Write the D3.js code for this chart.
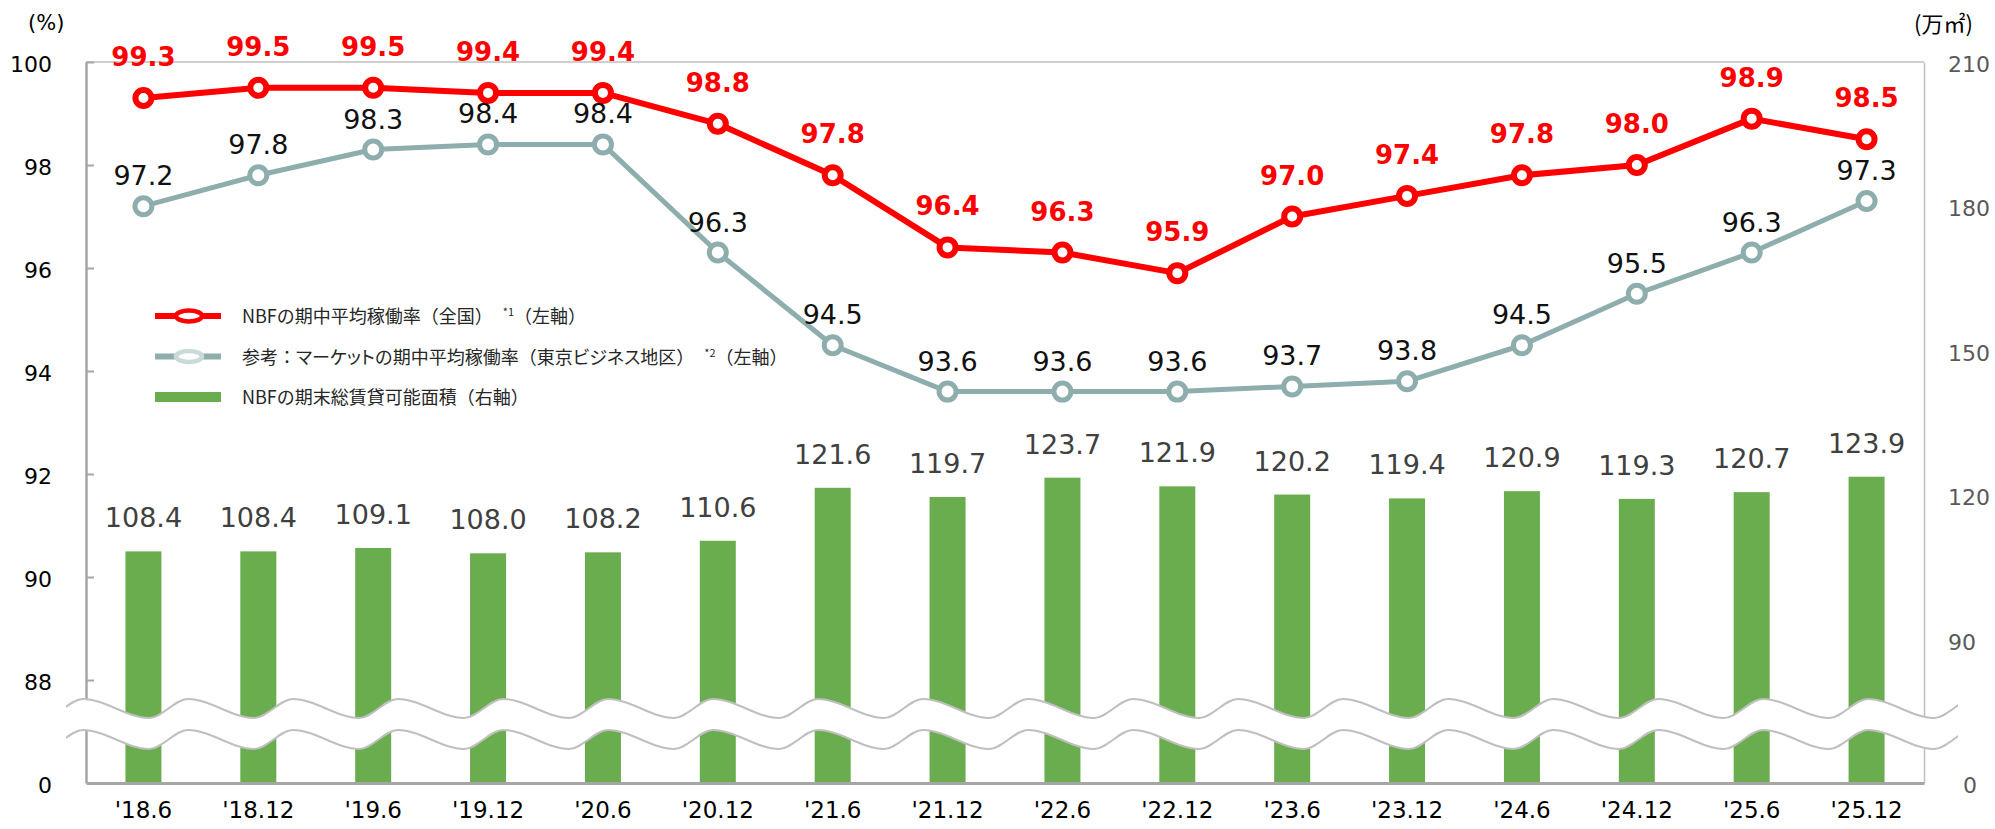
<!DOCTYPE html>
<html>
<head>
<meta charset="utf-8">
<script src="https://cdn.jsdelivr.net/npm/d3@7"></script>
<style>
  body { margin: 0; background: #fff; }
  svg { display: block; }
  .kana { font-feature-settings: "palt"; }
</style>
</head>
<body>
<svg id="chart"></svg>
<script>
// Data
const periods = ["'18.6", "'18.12", "'19.6", "'19.12", "'20.6", "'20.12", "'21.6", "'21.12",
                 "'22.6", "'22.12", "'23.6", "'23.12", "'24.6", "'24.12", "'25.6", "'25.12"];
const nbfRate = [99.3, 99.5, 99.5, 99.4, 99.4, 98.8, 97.8, 96.4, 96.3, 95.9, 97.0, 97.4, 97.8, 98.0, 98.9, 98.5];
const marketRate = [97.2, 97.8, 98.3, 98.4, 98.4, 96.3, 94.5, 93.6, 93.6, 93.6, 93.7, 93.8, 94.5, 95.5, 96.3, 97.3];
const floorArea = [108.4, 108.4, 109.1, 108.0, 108.2, 110.6, 121.6, 119.7, 123.7, 121.9, 120.2, 119.4, 120.9, 119.3, 120.7, 123.9];
const leftTicks = [0, 88, 90, 92, 94, 96, 98, 100];
const rightTicks = [0, 90, 120, 150, 180, 210];
const legendItems = [
    { key: 'nbf', text: 'NBFの期中平均稼働率（全国）', sup: '*1', tail: '（左軸）' },
    { key: 'market', text: '参考：マーケットの期中平均稼働率（東京ビジネス地区）', sup: '*2', tail: '（左軸）' },
    { key: 'area', text: 'NBFの期末総賃貸可能面積（右軸）', sup: '', tail: '' },
];

const COLORS = {
    nbf: '#ff0000',
    market: '#8eaead',
    marketLegend: '#c9dad9',
    area: '#6aad4f',
    axis: '#a6a6a6',
    frame: '#bfbfbf',
};
const NUM_FONT = '"DejaVu Sans", Verdana, sans-serif';
const JP_FONT = '"Noto Sans CJK JP", "Noto Sans", sans-serif';

const W = 1995, H = 829;
const plotLeft = 86, plotRight = 1924, plotTop = 62, plotBottom = 783;

const svg = d3.select('#chart').attr('width', W).attr('height', H);

const x = d3.scaleBand().domain(periods).range([plotLeft, plotRight]).padding(0);
const cx = d => x(d) + x.bandwidth() / 2;
// broken axes: the section below 88 / 90 is squeezed
const yL = d3.scaleLinear().domain([0, 88, 100]).range([plotBottom, 680, plotTop]);
const yR = d3.scaleLinear().domain([0, 90, 210]).range([plotBottom, 640, plotTop]);

// Bars
const barW = 36;
svg.append('g')
    .selectAll('rect')
    .data(floorArea)
    .join('rect')
    .attr('x', (d, i) => cx(periods[i]) - barW / 2)
    .attr('y', d => yR(d))
    .attr('width', barW)
    .attr('height', d => yR(0) - yR(d))
    .attr('fill', COLORS.area);

// Frame top
svg.append('line')
    .attr('x1', plotLeft).attr('x2', plotRight)
    .attr('y1', plotTop).attr('y2', plotTop)
    .attr('stroke', COLORS.frame).attr('stroke-width', 1.5);

// Left axis
const gL = svg.append('g')
    .attr('transform', `translate(${plotLeft},0)`)
    .call(d3.axisLeft(yL).tickValues(leftTicks).tickSizeInner(-8).tickSizeOuter(0).tickPadding(34));
gL.select('.domain').attr('stroke', COLORS.axis).attr('stroke-width', 2.5);
gL.selectAll('.tick line').attr('stroke', COLORS.axis).attr('stroke-width', 2)
    .filter(d => d === 0).remove();
gL.selectAll('.tick text')
    .attr('font-family', NUM_FONT).attr('font-size', 22).attr('fill', '#000')
    .attr('dy', '0.42em');

// Right axis
const gR = svg.append('g')
    .attr('transform', `translate(${plotRight},0)`)
    .call(d3.axisRight(yR).tickValues(rightTicks).tickSize(0).tickPadding(24));
gR.select('.domain').attr('stroke', COLORS.frame).attr('stroke-width', 1.5);
gR.selectAll('.tick text')
    .attr('font-family', NUM_FONT).attr('font-size', 22).attr('fill', '#595959')
    .attr('dy', '0.42em')
    .filter(d => d === 0).attr('x', 39);

// Bottom axis
const gB = svg.append('g')
    .attr('transform', `translate(0,${plotBottom})`)
    .call(d3.axisBottom(x).tickSize(0).tickSizeOuter(0));
gB.select('.domain').attr('stroke', COLORS.axis).attr('stroke-width', 3);
gB.selectAll('.tick text')
    .attr('font-family', NUM_FONT).attr('font-size', 23).attr('fill', '#000')
    .attr('y', 35).attr('dy', 0);

// Axis break (double wave)
const wavePeriod = 105, waveFall = 66, wavePeak = 699, waveTrough = 718, waveGap = 31;
const wavePts = [];
for (let k = -1; k <= 18; k++) {
    const p = 83 + wavePeriod * k;
    wavePts.push([p, wavePeak], [p + waveFall, waveTrough]);
}
const defs = svg.append('defs');
defs.append('clipPath').attr('id', 'break-clip')
    .append('rect').attr('x', 66).attr('y', 600).attr('width', 1958 - 66).attr('height', 200);
const gBreak = svg.append('g').attr('clip-path', 'url(#break-clip)');
gBreak.append('path')
    .datum(wavePts)
    .attr('d', d3.area().x(d => d[0]).y0(d => d[1]).y1(d => d[1] + waveGap).curve(d3.curveMonotoneX))
    .attr('fill', '#fff');
[0, waveGap].forEach(off => {
    gBreak.append('path')
        .datum(wavePts)
        .attr('d', d3.line().x(d => d[0]).y(d => d[1] + off).curve(d3.curveMonotoneX))
        .attr('fill', 'none')
        .attr('stroke', COLORS.frame)
        .attr('stroke-width', 2);
});

// Lines
const line = d3.line().x((d, i) => cx(periods[i])).y(d => yL(d));
svg.append('path').datum(marketRate)
    .attr('d', line).attr('fill', 'none')
    .attr('stroke', COLORS.market).attr('stroke-width', 5).attr('stroke-linejoin', 'round');
svg.append('g').selectAll('circle').data(marketRate).join('circle')
    .attr('cx', (d, i) => cx(periods[i])).attr('cy', d => yL(d)).attr('r', 8.5)
    .attr('fill', '#fff').attr('stroke', COLORS.market).attr('stroke-width', 5);

svg.append('path').datum(nbfRate)
    .attr('d', line).attr('fill', 'none')
    .attr('stroke', COLORS.nbf).attr('stroke-width', 6).attr('stroke-linejoin', 'round');
svg.append('g').selectAll('circle').data(nbfRate).join('circle')
    .attr('cx', (d, i) => cx(periods[i])).attr('cy', d => yL(d)).attr('r', 8)
    .attr('fill', '#fff').attr('stroke', COLORS.nbf).attr('stroke-width', 6);

// Data labels
svg.append('g').selectAll('text').data(floorArea).join('text')
    .attr('x', (d, i) => cx(periods[i])).attr('y', d => yR(d) - 24)
    .attr('text-anchor', 'middle')
    .attr('font-family', NUM_FONT).attr('font-size', 27).attr('fill', '#404040')
    .text(d => d.toFixed(1));

svg.append('g').selectAll('text').data(marketRate).join('text')
    .attr('x', (d, i) => cx(periods[i])).attr('y', d => yL(d) - 21)
    .attr('text-anchor', 'middle')
    .attr('font-family', NUM_FONT).attr('font-size', 27).attr('fill', '#111')
    .text(d => d.toFixed(1));

svg.append('g').selectAll('text').data(nbfRate).join('text')
    .attr('x', (d, i) => cx(periods[i])).attr('y', d => yL(d) - 32)
    .attr('text-anchor', 'middle')
    .attr('font-family', NUM_FONT).attr('font-size', 26).attr('font-weight', 'bold')
    .attr('fill', COLORS.nbf)
    .text(d => d.toFixed(1));

// Unit labels
svg.append('text').attr('x', 28).attr('y', 30)
    .attr('font-family', NUM_FONT).attr('font-size', 21).attr('fill', '#000')
    .text('(%)');
svg.append('text').attr('x', 1914).attr('y', 32)
    .attr('font-family', JP_FONT).attr('font-size', 22).attr('fill', '#000')
    .text('(万㎡)');

// Legend
const legend = svg.append('g').attr('transform', 'translate(155,316)');
const rowH = 40.5;
const item = legend.selectAll('g').data(legendItems).join('g')
    .attr('transform', (d, i) => `translate(0,${i * rowH})`);

item.filter(d => d.key === 'nbf').call(g => {
    g.append('line').attr('x1', 0).attr('x2', 66).attr('stroke', COLORS.nbf).attr('stroke-width', 6);
    g.append('ellipse').attr('cx', 34).attr('rx', 13).attr('ry', 5.5)
        .attr('fill', '#fff').attr('stroke', COLORS.nbf).attr('stroke-width', 4.5);
});
item.filter(d => d.key === 'market').call(g => {
    g.append('line').attr('x1', 0).attr('x2', 66).attr('stroke', COLORS.market).attr('stroke-width', 6);
    g.append('ellipse').attr('cx', 34).attr('rx', 13).attr('ry', 5.5)
        .attr('fill', '#fff').attr('stroke', COLORS.marketLegend).attr('stroke-width', 4.5);
});
item.filter(d => d.key === 'area').call(g => {
    g.append('rect').attr('x', 0).attr('y', -5).attr('width', 66).attr('height', 10).attr('fill', COLORS.area);
});

const lt = item.append('text')
    .attr('x', 87).attr('y', 7)
    .attr('font-family', JP_FONT).attr('font-size', 18).attr('fill', '#262626');
// katakana runs are set proportionally, as in the original
lt.each(function (d) {
    const t = d3.select(this);
    d.text.split(/([\u30A0-\u30FF]+)/).filter(s => s).forEach(s => {
        const sp = t.append('tspan').text(s);
        if (/^[\u30A0-\u30FF]+$/.test(s)) sp.attr('class', 'kana');
    });
});
lt.append('tspan').attr('font-size', 11).attr('dx', 10).attr('dy', -7).text(d => d.sup);
lt.append('tspan').attr('dy', 7).text(d => d.tail);
</script>
</body>
</html>
